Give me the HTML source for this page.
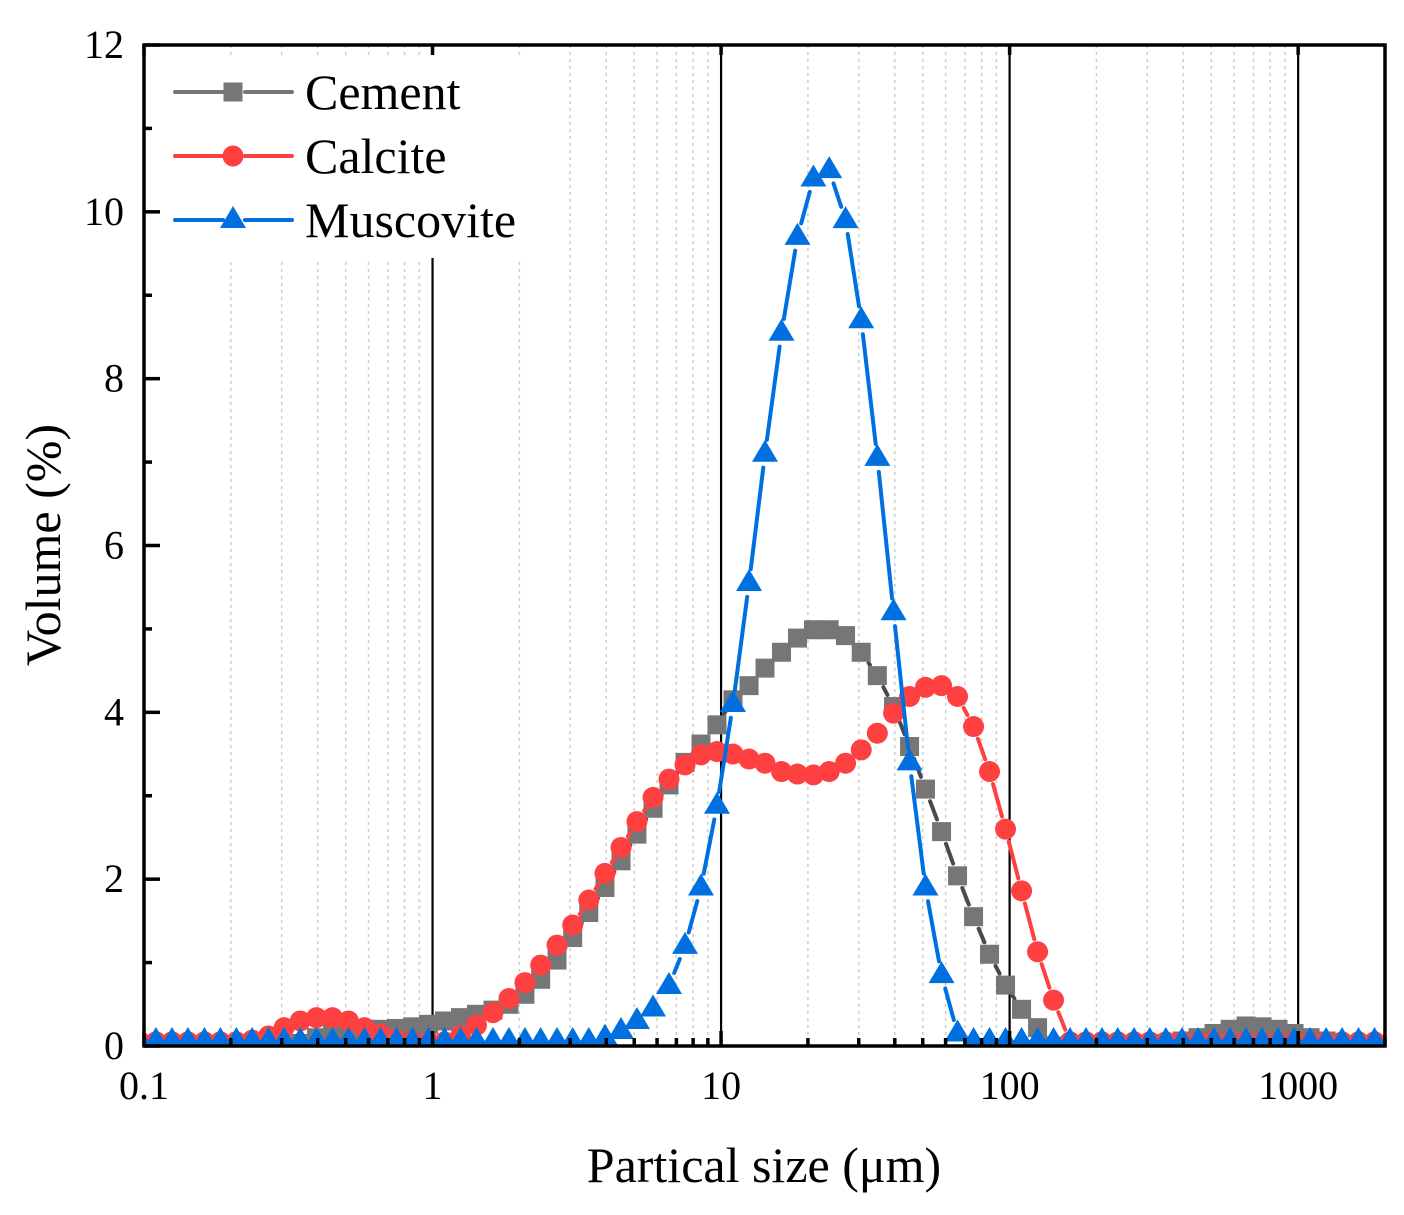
<!DOCTYPE html>
<html><head><meta charset="utf-8">
<style>
html,body{margin:0;padding:0;background:#fff;}
svg{display:block;}
text{font-family:"Liberation Serif",serif;fill:#000;}
</style></head>
<body>
<svg id="chart" width="1404" height="1215" viewBox="0 0 1404 1215" xmlns="http://www.w3.org/2000/svg">
<defs><clipPath id="plotclip"><rect x="144" y="45" width="1241" height="1001"/></clipPath></defs>
<g id="grid"></g>
<g id="series" clip-path="url(#plotclip)"></g>
<g id="legend">
  <rect x="148" y="55" width="380" height="203" fill="#fff"/>
</g>
<g id="axes"></g>
<text x="764" y="1182" font-size="50" text-anchor="middle">Partical size (μm)</text>
<text transform="translate(60,545) rotate(-90)" font-size="50" text-anchor="middle">Volume (%)</text>
</svg>
<script>
const sizes = [0.0968,0.110,0.125,0.142,0.162,0.184,0.209,0.237,0.270,0.306,0.348,0.396,0.450,0.511,0.581,0.660,0.750,0.852,0.968,
1.10,1.25,1.42,1.62,1.84,2.09,2.37,2.70,3.06,3.48,3.96,4.50,5.11,5.81,6.60,7.50,8.52,9.68,
11.0,12.5,14.2,16.2,18.4,20.9,23.7,27.0,30.6,34.8,39.6,45.0,51.1,58.1,66.0,75.0,85.2,96.8,
110,125,142,162,184,209,237,270,306,348,396,450,511,581,660,750,852,968,1100,1250,1420,1620,1840,2090];
const cement = [0.0,0.0,0.0,0.0,0.0,0.0,0.0,0.0,0.0,0.0,0.03,0.1,0.15,0.18,0.2,0.2,0.21,0.23,0.26,
0.3,0.34,0.38,0.43,0.5,0.62,0.8,1.03,1.3,1.6,1.9,2.22,2.54,2.85,3.13,3.4,3.62,
3.85,4.15,4.32,4.53,4.72,4.89,4.99,4.99,4.92,4.72,4.44,4.07,3.59,3.08,2.57,2.04,1.55,1.1,0.73,
0.44,0.22,0.0,0.0,0.0,0.0,0.0,0.0,0.0,0.03,0.06,0.1,0.15,0.2,0.24,0.23,0.2,0.15,0.1,0.06,0.0,0.0,0.0,0.0];
const calcite = [0.05,0.05,0.05,0.05,0.05,0.05,0.05,0.07,0.12,0.22,0.3,0.34,0.34,0.3,0.22,0.14,0.08,0.05,0.05,
0.05,0.12,0.25,0.4,0.57,0.76,0.97,1.21,1.45,1.75,2.07,2.38,2.69,2.98,3.2,3.37,3.49,
3.53,3.5,3.44,3.39,3.29,3.26,3.25,3.29,3.39,3.55,3.75,3.99,4.19,4.3,4.32,4.19,3.83,3.29,2.6,
1.86,1.13,0.55,0.05,0.05,0.05,0.05,0.05,0.05,0.05,0.05,0.05,0.05,0.05,0.05,0.05,0.05,0.05,0.05,0.05,0.05,0.05,0.05,0.05];
const muscovite = [0.06,0.06,0.06,0.06,0.06,0.06,0.06,0.06,0.06,0.06,0.06,0.06,0.06,0.06,0.06,0.06,0.06,0.06,0.06,
0.06,0.06,0.06,0.06,0.06,0.06,0.06,0.06,0.06,0.06,0.1,0.18,0.3,0.45,0.72,1.2,1.9,
2.88,4.1,5.55,7.1,8.55,9.7,10.4,10.5,9.9,8.7,7.05,5.2,3.4,1.9,0.85,0.15,0.06,0.06,0.06,
0.06,0.06,0.06,0.06,0.06,0.06,0.06,0.06,0.06,0.06,0.06,0.06,0.06,0.06,0.06,0.06,0.06,0.06,0.06,0.06,0.06,0.06,0.06,0.06];
const yTicks = [0,2,4,6,8,10,12];
const xTicks = [0.1,1,10,100,1000];
const xTickLabels = ["0.1","1","10","100","1000"];

const NS = "http://www.w3.org/2000/svg";
const L=144,R=1385,T=45,B=1046;
const xLogMin=-1, xLogMax=Math.log10(2000);
function X(v){return L+(Math.log10(v)-xLogMin)/(xLogMax-xLogMin)*(R-L);}
function Y(v){return B-v/12*(B-T);}
function mk(tag,attrs,parent){const e=document.createElementNS(NS,tag);for(const k in attrs)e.setAttribute(k,attrs[k]);parent.appendChild(e);return e;}

const grid=document.getElementById('grid');
const axes=document.getElementById('axes');
const series=document.getElementById('series');
const legend=document.getElementById('legend');

for(let d=-1; d<=3; d++){
  for(let m=2;m<=9;m++){
    const v=m*Math.pow(10,d); if(v>2000) continue;
    const gl=mk('line',{x1:X(v),x2:X(v),y1:T,y2:B,stroke:'#cccccc','stroke-width':1.5,'stroke-dasharray':'3 4'},grid);
    
    
    const tk=mk('line',{x1:X(v),x2:X(v),y1:B,y2:B-8,stroke:'#000','stroke-width':3.5},axes);
    
    
  }
}
xTicks.forEach((v,i)=>{
  if(i>0){
    const gl=mk('line',{x1:X(v),x2:X(v),y1:T,y2:B,stroke:'#000','stroke-width':2.2},grid);
    
    
  }
  const tk=mk('line',{x1:X(v),x2:X(v),y1:B,y2:B-15,stroke:'#000','stroke-width':3.5},axes);
  
  
  const tt=mk('line',{x1:X(v),x2:X(v),y1:T,y2:T+10,stroke:'#000','stroke-width':3.5},axes);
  
  
  const lb=mk('text',{x:X(v),y:1099,'font-size':40,'text-anchor':'middle'},axes);
  lb.textContent=xTickLabels[i];
  
  
});
for(let v=0; v<=12; v++){
  const major = v%2===0;
  const tk=mk('line',{x1:L,x2:L+(major?16:8),y1:Y(v),y2:Y(v),stroke:'#000','stroke-width':3.5},axes);
  
  
}
yTicks.forEach(v=>{
  const lb=mk('text',{x:124,y:Y(v)+13,'font-size':40,'text-anchor':'end'},axes);
  lb.textContent=String(v);
  
  
});
const frame=mk('rect',{x:L,y:T,width:R-L,height:B-T,fill:'none',stroke:'#000','stroke-width':3.5},axes);



function marker(shape,cx,cy,color,parent){
  let e;
  if(shape==='square') e=mk('rect',{x:cx-9.5,y:cy-9.5,width:19,height:19,fill:color},parent);
  else if(shape==='circle') e=mk('circle',{cx:cx,cy:cy,r:10.5,fill:color},parent);
  else e=mk('polygon',{points:`${cx},${cy-14} ${cx-13},${cy+8} ${cx+13},${cy+8}`,fill:color},parent);
  return e;
}
function drawSeries(name,vals,shape,mcolor,lcolor,gap){
  const g=mk('g',{},series);
  
  
  for(let i=0;i<vals.length-1;i++){
    const x1=X(sizes[i]),y1=Y(vals[i]),x2=X(sizes[i+1]),y2=Y(vals[i+1]);
    const dx=x2-x1,dy=y2-y1,len=Math.hypot(dx,dy);
    if(len<=2*gap) continue;
    const ux=dx/len,uy=dy/len;
    const ln=mk('line',{x1:x1+ux*gap,y1:y1+uy*gap,x2:x2-ux*gap,y2:y2-uy*gap,stroke:lcolor,'stroke-width':4,'stroke-linecap':'round'},g);
    
    
  }
  vals.forEach((v,i)=>{
    const m=marker(shape,X(sizes[i]),Y(v),mcolor,g);
    
    
  });
}
drawSeries('cement',cement,'square','#767676','#4a4a4a',13);
drawSeries('calcite',calcite,'circle','#ff4040','#ff4040',13);
drawSeries('muscovite',muscovite,'triangle','#0070e0','#0070e0',14);

const legendItems=[["Cement","square","#767676",92],["Calcite","circle","#ff4040",156],["Muscovite","triangle","#0070e0",220]];
legendItems.forEach(it=>{
  const g=mk('g',{},legend);
  
  
  mk('line',{x1:175,x2:223,y1:it[3],y2:it[3],stroke:it[2],'stroke-width':4,'stroke-linecap':'round'},g);
  mk('line',{x1:245,x2:292,y1:it[3],y2:it[3],stroke:it[2],'stroke-width':4,'stroke-linecap':'round'},g);
  marker(it[1],233,it[3],it[2],g);
  const t=mk('text',{x:305,y:it[3]+17,'font-size':50},g);
  t.textContent=it[0];
});
</script>
</body></html>
